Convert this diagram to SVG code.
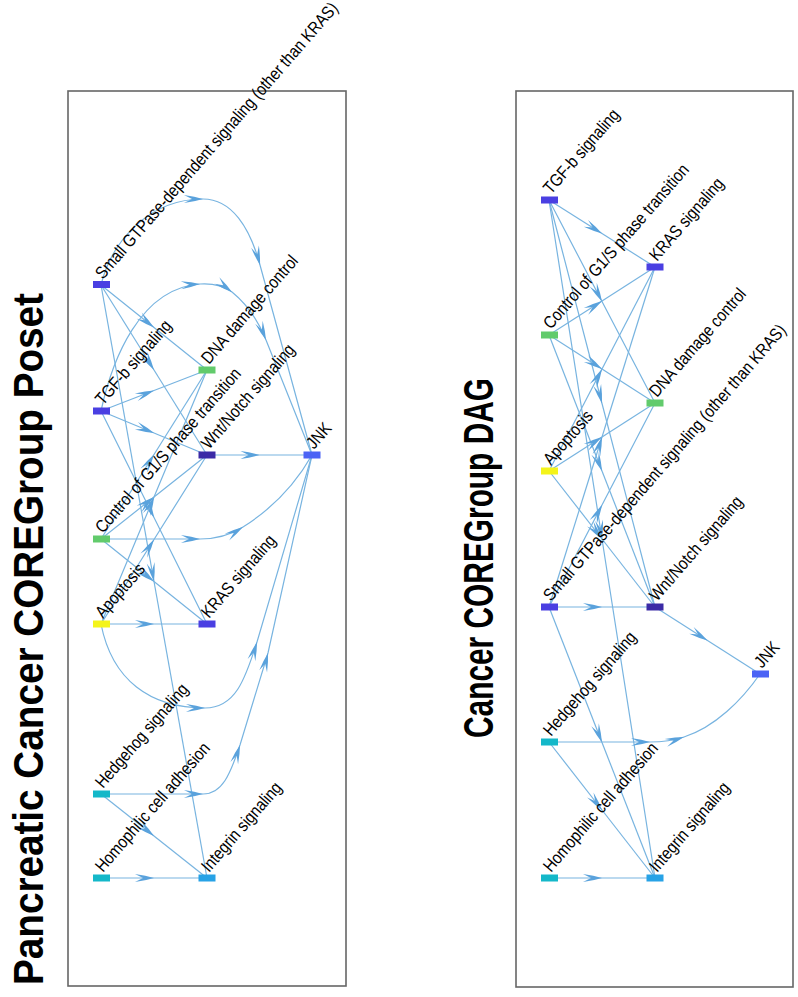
<svg xmlns="http://www.w3.org/2000/svg" width="798" height="997" viewBox="0 0 798 997">
<style>
.frame{fill:#fff;stroke:#666;stroke-width:1.6}
.e{fill:none;stroke:#78b4e0;stroke-width:1.2;marker-mid:url(#ah)}
.lbl{font-family:"Liberation Sans",Arial,sans-serif;font-size:17.5px;fill:#000}
.title{font-family:"Liberation Sans",Arial,sans-serif;font-size:43px;font-weight:bold;fill:#000}
.sg{fill:#4a3fe2}.kr{fill:#4a3fe2}.tg{fill:#4a3fe2}.wn{fill:#3b2aa6}.jn{fill:#4b63f5}
.gr{fill:#62cb6c}.ye{fill:#f4f41a}.cy{fill:#14b8c9}.it{fill:#27a2e6}
</style>
<defs>
<marker id="ah" markerUnits="userSpaceOnUse" viewBox="-22 -6 24 12" markerWidth="24" markerHeight="12" refX="0" refY="0" orient="auto">
<path d="M0,0 Q-8,-2.5 -19,-4 L-11,0 L-19,4 Q-8,2.5 0,0 Z" fill="#5aa2dc"/>
</marker>
</defs>
<rect width="798" height="997" fill="#fff"/>
<text class="title" transform="translate(43,985) rotate(-90)" textLength="692" lengthAdjust="spacingAndGlyphs">Pancreatic Cancer COREGroup Poset</text>
<text class="title" transform="translate(493,738) rotate(-90)" textLength="360" lengthAdjust="spacingAndGlyphs">Cancer COREGroup DAG</text>
<rect class="frame" x="68" y="91" width="278" height="895"/>
<rect class="frame" x="516" y="91" width="277" height="896"/>

<g id="connectors-left">
<path class="e" d="M101,285 L154,327.5 L207,370"/>
<path class="e" d="M101,285 L154,370 L207,455"/>
<path class="e" d="M101,285 L154,581.5 L207,878"/>
<path class="e" d="M101,411 L154,390.5 L207,370"/>
<path class="e" d="M101,411 L154,433 L207,455"/>
<path class="e" d="M101,411 L154,517.5 L207,624"/>
<path class="e" d="M101,539 L154,454.5 L207,370"/>
<path class="e" d="M101,539 L154,497 L207,455"/>
<path class="e" d="M101,539 L154,581.5 L207,624"/>
<path class="e" d="M101,624 L154,497 L207,370"/>
<path class="e" d="M101,624 L154,539.5 L207,455"/>
<path class="e" d="M101,624 L154,624 L207,624"/>
<path class="e" d="M101,794 L154,836 L207,878"/>
<path class="e" d="M101,878 L154,878 L207,878"/>
<path class="e" d="M207,455 L259.5,455 L312,455"/>
<path class="e" d="M101,285 C112,240 150,199 203,199 C232,199 250,228 260,265 L312,455"/>
<path class="e" d="M101,411 C112,360 140,288 200,284 C215,283 225,287 232,292 C248,305 258,320 266,340 L312,455"/>
<path class="e" d="M101,539 L200,539 C220,539 232,534 243,527 C270,510 295,485 312,455"/>
<path class="e" d="M101,624 C112,680 150,708 205,708 C235,708 245,680 257,642 L312,455"/>
<path class="e" d="M101,794 L203,794 C222,794 230,775 240,745 L268,653 L312,455"/>
</g>

<g id="connectors-right">
<path class="e" d="M549,200 L602,233.5 L655,267"/>
<path class="e" d="M549,200 L602,301.5 L655,403"/>
<path class="e" d="M549,200 L602,403.5 L655,607"/>
<path class="e" d="M549,200 L602,539 L655,878"/>
<path class="e" d="M549,335 L602,301 L655,267"/>
<path class="e" d="M549,335 L602,369 L655,403"/>
<path class="e" d="M549,335 L602,471 L655,607"/>
<path class="e" d="M549,471 L602,369 L655,267"/>
<path class="e" d="M549,471 L602,437 L655,403"/>
<path class="e" d="M549,471 L602,539 L655,607"/>
<path class="e" d="M549,607 L602,437 L655,267"/>
<path class="e" d="M549,607 L602,505 L655,403"/>
<path class="e" d="M549,607 L602,607 L655,607"/>
<path class="e" d="M549,607 L602,742.5 L655,878"/>
<path class="e" d="M549,742 L602,810 L655,878"/>
<path class="e" d="M549,878 L602,878 L655,878"/>
<path class="e" d="M655,607 L707.5,640.5 L760,674"/>
<path class="e" d="M549,742 L650,742 C665,742 675,740 684,737 C715,727 742,700 760,674"/>
</g>

<g id="L-SG"><rect class="sg" x="93" y="281" width="17" height="7"/><text class="lbl" transform="translate(103,280) rotate(-49) scale(0.85,1)">Small GTPase-dependent signaling (other than KRAS)</text></g>
<g id="L-TGF"><rect class="tg" x="93" y="407.5" width="17" height="7"/><text class="lbl" transform="translate(103,406) rotate(-49) scale(0.85,1)">TGF-b signaling</text></g>
<g id="L-DNA"><rect class="gr" x="198.5" y="366.5" width="17" height="7"/><text class="lbl" transform="translate(209,365) rotate(-49) scale(0.85,1)">DNA damage control</text></g>
<g id="L-WNT"><rect class="wn" x="198.5" y="451.5" width="17" height="7"/><text class="lbl" transform="translate(209,450) rotate(-49) scale(0.85,1)">Wnt/Notch signaling</text></g>
<g id="L-JNK"><rect class="jn" x="303.5" y="451.5" width="17" height="7"/><text class="lbl" transform="translate(314,450) rotate(-49) scale(0.85,1)">JNK</text></g>
<g id="L-CTL"><rect class="gr" x="93" y="535.5" width="17" height="7"/><text class="lbl" transform="translate(103,534) rotate(-49) scale(0.85,1)">Control of G1/S phase transition</text></g>
<g id="L-APO"><rect class="ye" x="93" y="620.5" width="17" height="7"/><text class="lbl" transform="translate(103,619) rotate(-49) scale(0.85,1)">Apoptosis</text></g>
<g id="L-KRAS"><rect class="kr" x="198.5" y="620.5" width="17" height="7"/><text class="lbl" transform="translate(209,619) rotate(-49) scale(0.85,1)">KRAS signaling</text></g>
<g id="L-HH"><rect class="cy" x="93" y="790.5" width="17" height="7"/><text class="lbl" transform="translate(103,789) rotate(-49) scale(0.85,1)">Hedgehog signaling</text></g>
<g id="L-HOM"><rect class="cy" x="93" y="874.5" width="17" height="7"/><text class="lbl" transform="translate(103,873) rotate(-49) scale(0.85,1)">Homophilic cell adhesion</text></g>
<g id="L-INT"><rect class="it" x="198.5" y="874.5" width="17" height="7"/><text class="lbl" transform="translate(209,873) rotate(-49) scale(0.85,1)">Integrin signaling</text></g>

<g id="R-TGF"><rect class="tg" x="541" y="196.5" width="17" height="7"/><text class="lbl" transform="translate(551,195) rotate(-49) scale(0.85,1)">TGF-b signaling</text></g>
<g id="R-KRAS"><rect class="kr" x="646.5" y="263.5" width="17" height="7"/><text class="lbl" transform="translate(657,262) rotate(-49) scale(0.85,1)">KRAS signaling</text></g>
<g id="R-CTL"><rect class="gr" x="541" y="331.5" width="17" height="7"/><text class="lbl" transform="translate(551,330) rotate(-49) scale(0.85,1)">Control of G1/S phase transition</text></g>
<g id="R-DNA"><rect class="gr" x="646.5" y="399.5" width="17" height="7"/><text class="lbl" transform="translate(657,398) rotate(-49) scale(0.85,1)">DNA damage control</text></g>
<g id="R-APO"><rect class="ye" x="541" y="467.5" width="17" height="7"/><text class="lbl" transform="translate(551,466) rotate(-49) scale(0.85,1)">Apoptosis</text></g>
<g id="R-SG"><rect class="sg" x="541" y="603.5" width="17" height="7"/><text class="lbl" transform="translate(551,602) rotate(-49) scale(0.85,1)">Small GTPase-dependent signaling (other than KRAS)</text></g>
<g id="R-WNT"><rect class="wn" x="646.5" y="603.5" width="17" height="7"/><text class="lbl" transform="translate(657,602) rotate(-49) scale(0.85,1)">Wnt/Notch signaling</text></g>
<g id="R-JNK"><rect class="jn" x="752" y="670.5" width="17" height="7"/><text class="lbl" transform="translate(762,669) rotate(-49) scale(0.85,1)">JNK</text></g>
<g id="R-HH"><rect class="cy" x="541" y="738.5" width="17" height="7"/><text class="lbl" transform="translate(551,737) rotate(-49) scale(0.85,1)">Hedgehog signaling</text></g>
<g id="R-HOM"><rect class="cy" x="541" y="874.5" width="17" height="7"/><text class="lbl" transform="translate(551,873) rotate(-49) scale(0.85,1)">Homophilic cell adhesion</text></g>
<g id="R-INT"><rect class="it" x="646.5" y="874.5" width="17" height="7"/><text class="lbl" transform="translate(657,873) rotate(-49) scale(0.85,1)">Integrin signaling</text></g>
</svg>
